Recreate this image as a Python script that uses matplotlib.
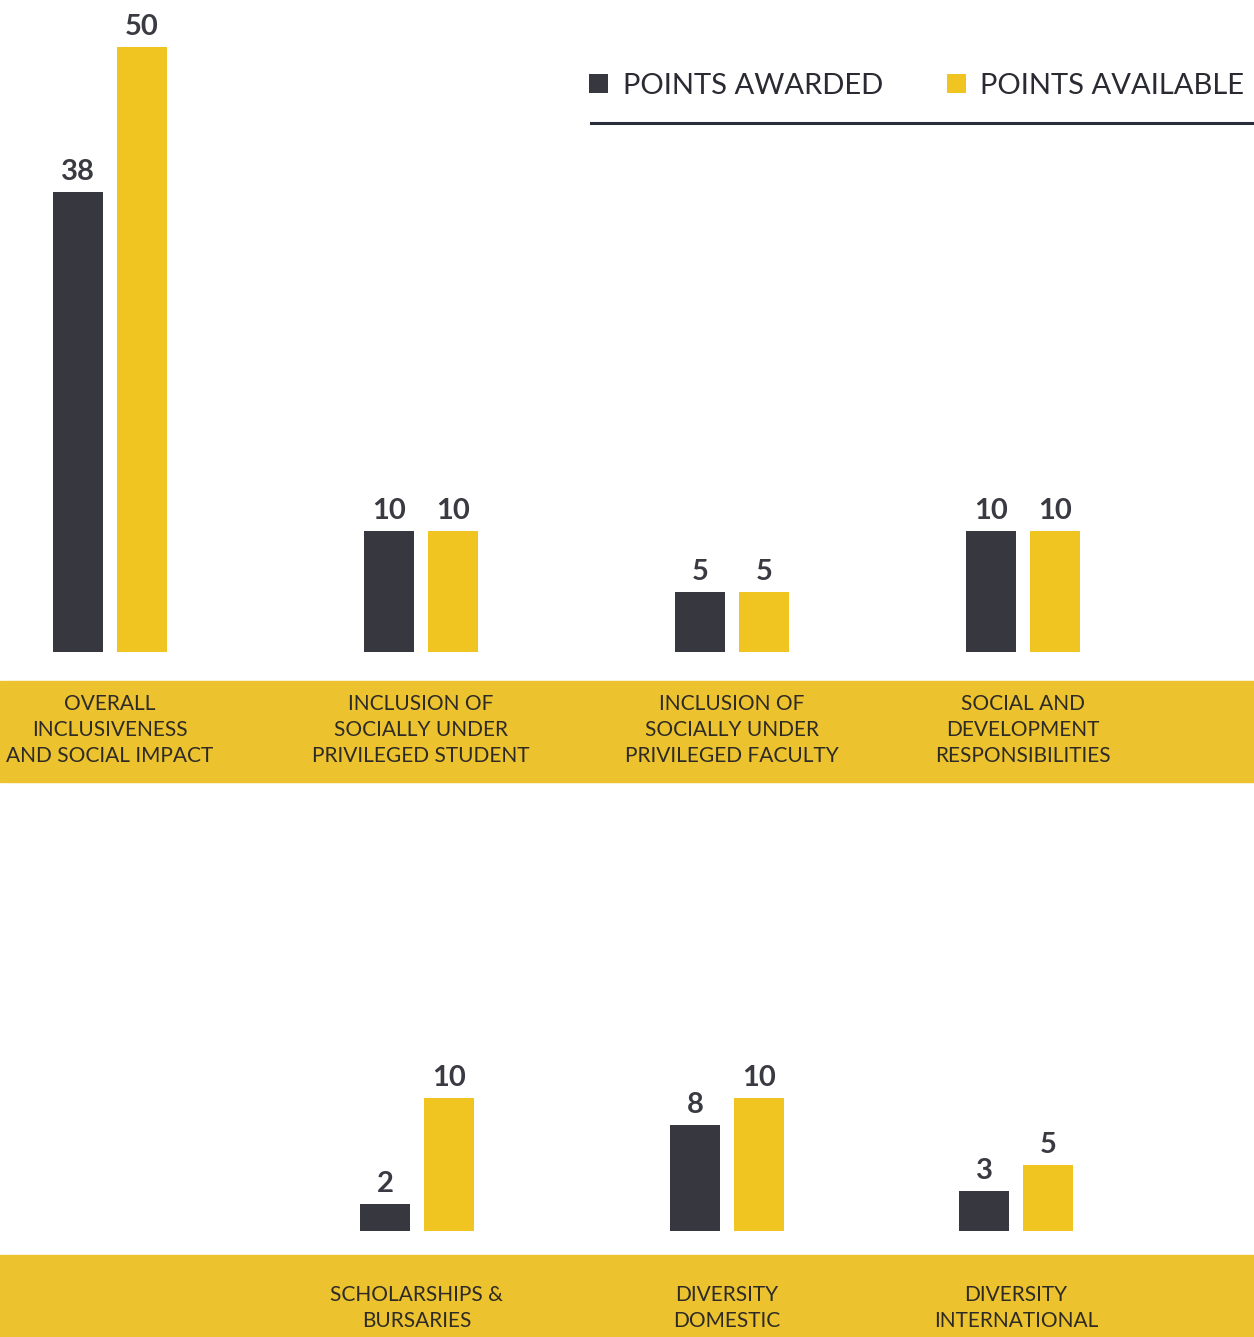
import matplotlib.pyplot as plt
from matplotlib.patches import Rectangle
from matplotlib.lines import Line2D

plt.rcParams['font.family'] = ['Lato', 'DejaVu Sans']

# top row
top_cats = ['OVERALL\nINCLUSIVENESS\nAND SOCIAL IMPACT',
            'INCLUSION OF\nSOCIALLY UNDER\nPRIVILEGED STUDENT',
            'INCLUSION OF\nSOCIALLY UNDER\nPRIVILEGED FACULTY',
            'SOCIAL AND\nDEVELOPMENT\nRESPONSIBILITIES']
top_awarded = [38, 10, 5, 10]
top_available = [50, 10, 5, 10]

# bottom row
bot_cats = ['SCHOLARSHIPS &\nBURSARIES', 'DIVERSITY\nDOMESTIC', 'DIVERSITY\nINTERNATIONAL']
bot_awarded = [2, 8, 3]
bot_available = [10, 10, 5]

dark = '#37373f'
yellow = '#f1c521'
band = '#ecc22e'
txt = '#3a3a42'

W, H = 1254, 1337
fig = plt.figure(figsize=(W / 100, H / 100), dpi=100)

def fx(p):
    return p / W

def fy(p):
    return 1 - p / H

# group centres along the page, in pixels (x axis runs 0..W)
top_x = [110, 421, 732, 1023]
bot_x = [417, 727, 1016]
off = 32
bw = 50

# yellow bands behind the category names
fig.add_artist(Rectangle((0, fy(782)), 1, fy(681) - fy(782), transform=fig.transFigure,
                         color=band, zorder=-1))
fig.add_artist(Rectangle((0, 0), 1, fy(1255), transform=fig.transFigure,
                         color=band, zorder=-1))

def panel(ax, cats, aw, av, xs, pad):
    b1 = ax.bar([x - off for x in xs], aw, bw, color=dark, label='POINTS AWARDED')
    b2 = ax.bar([x + off for x in xs], av, bw, color=yellow, label='POINTS AVAILABLE')
    for b in (b1, b2):
        ax.bar_label(b, padding=5, fontsize=21, fontweight='bold', color=txt)
    ax.set_xlim(0, W)
    ax.set_xticks(xs, cats)
    ax.tick_params(axis='x', length=0, pad=pad, labelsize=15, labelcolor='#2e2b26')
    for t in ax.get_xticklabels():
        t.set_linespacing(1.38)
    ax.set_yticks([])
    for s in ax.spines.values():
        s.set_visible(False)
    ax.patch.set_visible(False)
    return b1, b2

base1 = 652
ax1 = fig.add_axes([0, fy(base1), 1, base1 / H])
ax1.set_ylim(0, base1 / 12.1)
h1, h2 = panel(ax1, top_cats, top_awarded, top_available, top_x, 30)

base2 = 1231
top2 = 820
ax2 = fig.add_axes([0, fy(base2), 1, (base2 - top2) / H])
ax2.set_ylim(0, (base2 - top2) / 13.3)
panel(ax2, bot_cats, bot_awarded, bot_available, bot_x, 39)

fig.legend(handles=[h1, h2], loc='center left', bbox_to_anchor=(fx(589), fy(86)),
           bbox_transform=fig.transFigure, ncol=2, frameon=False, fontsize=21,
           handlelength=0.65, handleheight=0.65, handletextpad=0.5,
           columnspacing=2.2, borderpad=0, borderaxespad=0, labelcolor='#2a2a33')
fig.add_artist(Line2D([fx(591), 1], [fy(123), fy(123)], transform=fig.transFigure,
                      color='#2a2d3a', lw=2.2))

fig.savefig('out.png', dpi=100, facecolor='white')
